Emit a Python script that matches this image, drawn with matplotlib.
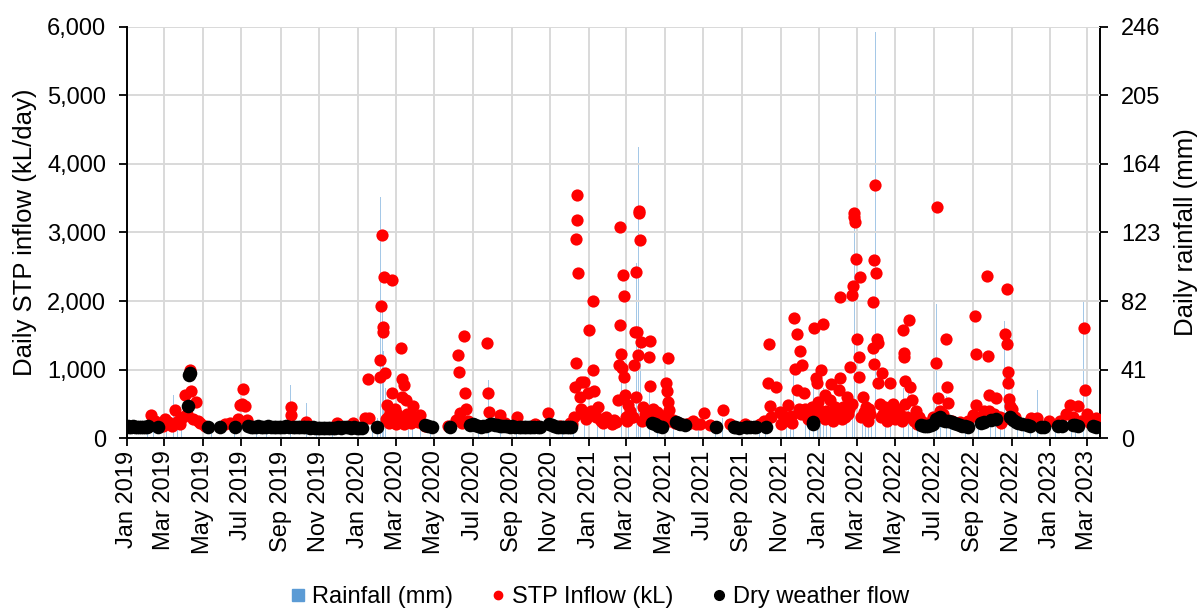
import matplotlib
matplotlib.use("Agg")
import matplotlib.pyplot as plt
import matplotlib.dates as mdates
from matplotlib.lines import Line2D
from matplotlib.ticker import FuncFormatter, FixedLocator
import pandas as pd

plt.rcParams['font.family'] = ['Liberation Sans', 'DejaVu Sans']

# ---------------- data ----------------
rain_dates = ["2019-01-12","2019-01-25","2019-02-03","2019-02-08","2019-02-12","2019-02-22","2019-03-05","2019-03-16",
    "2019-03-22","2019-03-28","2019-04-03","2019-04-11","2019-04-20","2019-05-15","2019-06-10","2019-06-20","2019-06-29",
    "2019-07-05","2019-07-25","2019-08-10","2019-08-28","2019-09-17","2019-10-12","2019-10-28","2019-11-22","2019-12-15",
    "2020-01-19","2020-01-25","2020-02-02","2020-02-06","2020-02-09","2020-02-11","2020-02-14","2020-02-18","2020-02-23",
    "2020-03-02","2020-03-08","2020-03-16","2020-03-22","2020-03-28","2020-04-10","2020-04-25","2020-05-20","2020-06-05",
    "2020-06-11","2020-06-16","2020-06-22","2020-07-10","2020-07-26","2020-08-14","2020-09-08","2020-09-25","2020-10-30",
    "2020-11-20","2020-12-08","2020-12-13","2020-12-15","2020-12-18","2020-12-25","2020-12-29",
    "2021-01-02","2021-01-06","2021-01-15","2021-01-26","2021-02-10","2021-02-19","2021-02-22","2021-02-24","2021-03-01",
    "2021-03-05","2021-03-12","2021-03-17","2021-03-20","2021-03-21","2021-03-24","2021-03-29","2021-04-07","2021-04-20",
    "2021-05-06","2021-05-15","2021-06-10","2021-06-24","2021-07-02","2021-07-20","2021-08-01","2021-08-25","2021-09-10",
    "2021-09-28","2021-10-08","2021-10-13","2021-10-18","2021-10-24","2021-11-04","2021-11-10","2021-11-16","2021-11-21",
    "2021-11-25","2021-12-01","2021-12-06","2021-12-10","2021-12-16","2021-12-23","2021-12-29",
    "2022-01-03","2022-01-07","2022-01-12","2022-01-18","2022-01-24","2022-01-29","2022-02-04","2022-02-09","2022-02-13",
    "2022-02-18","2022-02-22","2022-02-25","2022-02-26","2022-03-03","2022-03-06","2022-03-10","2022-03-15","2022-03-20",
    "2022-03-24","2022-03-28","2022-03-31","2022-04-05","2022-04-10","2022-04-15","2022-04-23","2022-04-29","2022-05-05",
    "2022-05-10","2022-05-14","2022-05-18","2022-05-22","2022-05-28","2022-06-05","2022-06-14","2022-07-05","2022-07-06",
    "2022-07-12","2022-07-21","2022-07-27","2022-08-10","2022-08-20","2022-09-04","2022-09-10","2022-09-17","2022-09-23",
    "2022-09-29","2022-10-07","2022-10-14","2022-10-21","2022-10-25","2022-11-01","2022-11-10","2022-11-20","2022-12-01",
    "2022-12-12","2022-12-24",
    "2023-01-10","2023-01-20","2023-01-26","2023-02-04","2023-02-10","2023-02-17","2023-02-23","2023-03-02","2023-03-10"]
rain_mm = [5,8,6,34,10,12,6,26,
    9,8,15,18,10,6,5,7,12,
    20,5,6,4,32,21,6,8,5,
    87,10,12,144,80,52,30,14,25,
    10,20,15,8,10,8,5,6,9,
    66,36,12,8,35,10,8,6,24,
    6,10,201,114,40,15,12,
    30,45,12,10,8,123,40,60,15,
    10,18,105,215,174,60,12,30,8,
    25,9,6,5,10,6,12,5,5,
    8,14,68,12,20,16,10,22,40,
    18,25,14,12,20,35,16,
    22,30,18,15,20,12,74,20,15,
    25,18,135,85,30,40,18,12,22,
    20,50,243,28,20,15,15,12,20,
    14,30,18,35,12,8,7,80,144,
    12,25,10,6,9,39,15,20,95,
    12,10,16,70,40,12,8,6,14,
    29,8,
    8,10,15,12,18,20,82,14,8]

inflow_dates = ["2019-02-08","2019-02-14","2019-02-22","2019-02-27","2019-03-02","2019-03-07","2019-03-10","2019-03-13",
    "2019-03-18","2019-03-23","2019-03-26","2019-03-31","2019-04-03","2019-04-06","2019-04-11","2019-04-13","2019-04-15",
    "2019-04-20","2019-04-23","2019-04-27","2019-05-04","2019-06-05","2019-06-13","2019-06-26","2019-06-29","2019-07-02",
    "2019-07-04","2019-07-07","2019-07-10","2019-09-17","2019-09-18","2019-10-11","2019-11-29","2019-12-25",
    "2020-01-13","2020-01-18","2020-01-19","2020-02-05","2020-02-06","2020-02-07","2020-02-08","2020-02-10","2020-02-11",
    "2020-02-12","2020-02-13","2020-02-15","2020-02-16","2020-02-18","2020-02-20","2020-02-21","2020-02-24","2020-02-25",
    "2020-02-26","2020-02-27","2020-02-29","2020-03-01","2020-03-03","2020-03-06","2020-03-09","2020-03-11","2020-03-12",
    "2020-03-14","2020-03-15","2020-03-17","2020-03-19","2020-03-21","2020-03-24","2020-03-26","2020-03-29","2020-03-31",
    "2020-04-02","2020-04-05","2020-04-09","2020-04-13","2020-04-16","2020-05-23","2020-06-04","2020-06-08","2020-06-09",
    "2020-06-11","2020-06-14","2020-06-18","2020-06-19","2020-06-20","2020-06-23","2020-07-24","2020-07-25","2020-07-27",
    "2020-08-14","2020-08-21","2020-09-09","2020-10-08","2020-10-28","2020-11-16","2020-12-02","2020-12-05","2020-12-08",
    "2020-12-10","2020-12-11","2020-12-12","2020-12-13","2020-12-14","2020-12-15","2020-12-18","2020-12-19","2020-12-20",
    "2020-12-22","2020-12-25","2020-12-27","2020-12-31",
    "2021-01-01","2021-01-04","2021-01-07","2021-01-08","2021-01-09","2021-01-12","2021-01-15","2021-01-18","2021-01-20",
    "2021-01-23","2021-01-28","2021-02-02","2021-02-06","2021-02-08","2021-02-10","2021-02-13","2021-02-16","2021-02-18",
    "2021-02-19","2021-02-20","2021-02-21","2021-02-23","2021-02-24","2021-02-25","2021-02-26","2021-02-27","2021-02-28",
    "2021-03-02","2021-03-04","2021-03-07","2021-03-10","2021-03-12","2021-03-14","2021-03-15","2021-03-16","2021-03-17",
    "2021-03-18","2021-03-20","2021-03-21","2021-03-22","2021-03-23","2021-03-24","2021-03-26","2021-03-27","2021-03-31",
    "2021-04-02","2021-04-06","2021-04-07","2021-04-08","2021-04-12","2021-04-15","2021-04-19","2021-04-23","2021-04-27",
    "2021-05-01","2021-05-03","2021-05-04","2021-05-06","2021-05-07","2021-05-08","2021-05-10","2021-05-14","2021-05-18",
    "2021-05-22","2021-05-28","2021-06-05","2021-06-10","2021-06-15","2021-06-20","2021-06-26","2021-07-02","2021-07-11",
    "2021-08-01","2021-08-12","2021-09-05","2021-09-29","2021-10-05","2021-10-12","2021-10-13","2021-10-14","2021-10-16",
    "2021-10-24","2021-10-30","2021-11-01","2021-11-03","2021-11-07","2021-11-12","2021-11-15","2021-11-17","2021-11-19",
    "2021-11-21","2021-11-23","2021-11-26","2021-11-27","2021-11-29","2021-12-01","2021-12-03","2021-12-04","2021-12-07",
    "2021-12-09","2021-12-12","2021-12-14","2021-12-16","2021-12-19","2021-12-20","2021-12-23","2021-12-25","2021-12-27",
    "2021-12-28","2021-12-30",
    "2022-01-02","2022-01-04","2022-01-07","2022-01-09","2022-01-10","2022-01-12","2022-01-14","2022-01-17","2022-01-20",
    "2022-01-22","2022-01-24","2022-01-26","2022-01-28","2022-01-31","2022-02-01","2022-02-02","2022-02-03","2022-02-05",
    "2022-02-07","2022-02-10","2022-02-13","2022-02-15","2022-02-17","2022-02-19","2022-02-21","2022-02-22","2022-02-23",
    "2022-02-24","2022-02-25","2022-02-26","2022-02-28","2022-03-02","2022-03-04","2022-03-05","2022-03-06","2022-03-08",
    "2022-03-11","2022-03-13","2022-03-15","2022-03-18","2022-03-20","2022-03-22","2022-03-26","2022-03-27","2022-03-28",
    "2022-03-29","2022-03-30","2022-04-01","2022-04-02","2022-04-03","2022-04-04","2022-04-07","2022-04-09","2022-04-10",
    "2022-04-12","2022-04-15","2022-04-18","2022-04-20","2022-04-23","2022-04-26","2022-04-28","2022-05-01","2022-05-03",
    "2022-05-06","2022-05-09","2022-05-11","2022-05-13","2022-05-14","2022-05-15","2022-05-16","2022-05-17","2022-05-19",
    "2022-05-22","2022-05-25","2022-05-28","2022-05-31","2022-06-02","2022-06-04","2022-06-07","2022-06-10","2022-06-18",
    "2022-06-30","2022-07-05","2022-07-06","2022-07-07","2022-07-10","2022-07-15","2022-07-21","2022-07-22","2022-07-23",
    "2022-07-29","2022-08-11","2022-08-24","2022-09-01","2022-09-04","2022-09-05","2022-09-06","2022-09-09","2022-09-18",
    "2022-09-23","2022-09-25","2022-09-26","2022-09-27","2022-10-04","2022-10-07","2022-10-13","2022-10-16","2022-10-20",
    "2022-10-21","2022-10-24","2022-10-25","2022-10-26","2022-10-27","2022-10-28","2022-10-29","2022-11-01","2022-11-06",
    "2022-11-30","2022-12-02","2022-12-12","2022-12-31",
    "2023-01-16","2023-01-26","2023-02-01","2023-02-06","2023-02-14","2023-02-19","2023-02-23","2023-02-25","2023-02-28",
    "2023-03-05","2023-03-15","2023-03-19"]
inflow_kl = [330,250,200,180,280,240,220,170,
    410,250,200,300,630,350,1000,680,280,
    520,250,220,180,200,220,280,480,500,
    715,460,260,330,450,240,215,215,
    290,860,290,895,1140,1930,2965,1550,1615,
    2355,955,280,480,300,220,380,2300,660,
    250,320,430,210,350,260,1310,860,600,
    775,200,555,350,300,250,220,460,300,
    280,240,335,200,180,180,260,1210,970,
    360,220,1490,650,430,250,1380,650,385,
    335,220,310,200,360,180,215,200,300,
    750,2905,1100,3180,3545,2405,600,430,820,
    350,820,280,650,
    1575,400,2005,1000,690,300,450,280,250,
    220,300,250,200,220,260,230,555,1065,
    3085,1650,1220,1015,2380,2075,895,630,300,
    250,480,400,300,300,1065,1550,600,2430,
    1550,1210,3320,3280,2890,1405,250,450,350,
    280,1185,1415,760,420,300,380,330,250,
    300,810,690,1165,530,410,250,260,220,
    220,200,200,215,250,200,200,360,190,
    405,200,210,200,250,800,1370,460,300,
    740,385,200,350,250,480,300,320,220,
    1755,1005,1515,700,420,1275,350,1065,650,
    430,385,280,300,250,450,1600,330,870,
    800,530,
    400,995,1665,630,280,400,350,555,790,
    250,350,450,300,380,700,870,2065,280,
    450,300,600,350,420,1040,500,2090,2225,
    3220,3290,3160,2615,1445,895,1185,2345,300,
    600,380,450,250,420,350,1980,1310,2600,
    1075,3695,2405,1440,1380,810,500,300,945,
    350,450,250,380,800,300,500,280,420,
    350,350,250,1575,1235,1185,835,500,300,
    1725,750,550,250,400,200,300,250,220,
    300,1090,3365,590,400,350,1445,750,505,
    250,230,250,330,1780,1225,480,300,400,
    2370,1195,630,400,350,580,300,220,280,
    1515,1370,2170,970,810,565,465,425,300,
    250,285,290,250,
    250,350,480,300,460,250,1600,700,350,
    220,285,200]

dry_dates = ["2019-01-02","2019-01-05","2019-01-08","2019-01-11","2019-01-14","2019-01-17","2019-01-20","2019-01-23",
    "2019-01-26","2019-01-29","2019-02-01","2019-02-04","2019-02-19","2019-04-08","2019-04-09","2019-04-10","2019-05-09",
    "2019-05-28","2019-06-21","2019-07-12","2019-07-16","2019-07-20","2019-07-24","2019-07-28","2019-08-01","2019-08-05",
    "2019-08-09","2019-08-13","2019-08-17","2019-08-21","2019-08-25","2019-08-29","2019-09-02","2019-09-06","2019-09-10",
    "2019-09-14","2019-09-20","2019-09-24","2019-09-28","2019-10-02","2019-10-06","2019-10-10","2019-10-14","2019-10-18",
    "2019-10-22","2019-10-26","2019-10-30","2019-11-03","2019-11-07","2019-11-11","2019-11-15","2019-11-19","2019-11-23",
    "2019-11-27","2019-12-01","2019-12-05","2019-12-09","2019-12-13","2019-12-17","2019-12-21","2019-12-27","2019-12-31",
    "2020-01-04","2020-01-08",
    "2020-01-31","2020-04-16","2020-04-22","2020-04-27","2020-05-26","2020-06-27","2020-07-01","2020-07-05","2020-07-09",
    "2020-07-14","2020-07-18","2020-07-22","2020-07-28","2020-08-01","2020-08-05","2020-08-09","2020-08-13","2020-08-17",
    "2020-08-21","2020-08-25","2020-08-29","2020-09-02","2020-09-06","2020-09-12","2020-09-16","2020-09-20","2020-09-24",
    "2020-09-28","2020-10-02","2020-10-06","2020-10-12","2020-10-16","2020-10-30","2020-11-03","2020-11-07","2020-11-11",
    "2020-11-15","2020-11-19","2020-11-23","2020-11-27","2020-12-01","2020-12-04",
    "2021-04-11","2021-04-15","2021-04-20","2021-04-26","2021-05-19","2021-05-22","2021-05-25","2021-06-02","2021-07-22",
    "2021-08-18","2021-08-21","2021-08-26","2021-09-06","2021-09-09","2021-09-13","2021-09-20","2021-09-23","2021-10-09",
    "2021-12-21","2021-12-22",
    "2022-06-11","2022-06-15","2022-06-19","2022-06-22","2022-06-26","2022-06-29","2022-07-04","2022-07-10","2022-07-14",
    "2022-07-18","2022-07-22","2022-07-25","2022-07-29","2022-08-02","2022-08-06","2022-08-11","2022-08-15","2022-08-19",
    "2022-08-24","2022-09-13","2022-09-19","2022-09-30","2022-10-07","2022-10-29","2022-11-04","2022-11-08","2022-11-11",
    "2022-11-17","2022-11-25","2022-11-30","2022-12-18","2022-12-23",
    "2023-01-14","2023-01-20","2023-02-06","2023-02-10","2023-02-14","2023-03-10","2023-03-14"]
dry_kl = [170,165,160,170,165,160,155,160,
    165,160,165,170,165,460,920,950,165,
    165,165,170,165,160,165,170,165,160,
    165,170,165,160,155,160,165,160,170,
    165,165,160,155,160,165,160,155,150,
    155,150,145,150,145,140,145,150,145,
    150,155,150,155,160,155,150,155,150,
    145,150,
    160,190,175,165,160,195,200,185,175,
    165,170,175,200,210,195,185,175,180,
    175,170,165,170,165,160,165,160,155,
    160,165,160,155,160,200,190,175,165,
    160,165,160,155,160,165,
    215,200,180,165,240,225,210,190,165,
    155,160,150,160,165,160,160,165,165,
    240,200,
    190,180,170,175,185,200,280,310,270,
    255,250,245,240,225,210,190,180,170,
    160,215,230,265,275,300,265,240,225,
    200,190,175,160,165,
    170,175,190,185,175,170,165]

flow_ticks = [0, 1000, 2000, 3000, 4000, 5000, 6000]
rain_ticks = [0, 41, 82, 123, 164, 205, 246]

# ---------------- figure ----------------
fig = plt.figure(figsize=(12, 6.08), dpi=100)
ax = fig.add_axes([0.1058, 0.2796, 0.9167 - 0.1058, 0.9556 - 0.2796])
ax2 = ax.twinx()
ax.set_zorder(ax2.get_zorder() + 1)
ax.patch.set_visible(False)

rd = pd.to_datetime(rain_dates)
ax2.bar(rd, rain_mm, width=1.0, color='#5B9BD5', alpha=0.55, linewidth=0, zorder=1)

ax.plot(pd.to_datetime(inflow_dates), inflow_kl, linestyle='none', marker='o', markersize=8.8,
        color='#FF0000', markeredgewidth=0, zorder=3)
ax.plot(pd.to_datetime(dry_dates), dry_kl, linestyle='none', marker='o', markersize=9.8,
        color='#000000', markeredgewidth=0, zorder=4)

ax.set_xlim(pd.Timestamp("2019-01-01"), pd.Timestamp("2023-03-21"))
ax.set_ylim(0, 6000)
ax2.set_ylim(0, 246)
ax.yaxis.set_major_locator(FixedLocator(flow_ticks))
ax2.yaxis.set_major_locator(FixedLocator(rain_ticks))
ax.yaxis.set_major_formatter(FuncFormatter(lambda v, p: f"{v:,.0f}"))

ax.xaxis.set_major_locator(mdates.MonthLocator(bymonth=[1, 3, 5, 7, 9, 11]))
ax.xaxis.set_major_formatter(mdates.DateFormatter('%b %Y'))
for lab in ax.get_xticklabels():
    lab.set_rotation(90)

ax.grid(True, color='#D9D9D9', linewidth=1.4, zorder=0)
ax.set_axisbelow(True)

fs = 17
ax.tick_params(axis='both', labelsize=fs, colors='black', width=1.3, length=6, direction='out')
ax.tick_params(axis='x', pad=3)
ax.tick_params(axis='y', pad=9)
ax2.tick_params(axis='y', labelsize=fs, colors='black', width=1.3, length=6, direction='out', pad=9)

for s in ['top', 'right']:
    ax.spines[s].set_visible(False)
for s in ['top', 'left', 'bottom']:
    ax2.spines[s].set_visible(False)
ax.spines['left'].set_linewidth(1.4)
ax.spines['bottom'].set_linewidth(1.4)
ax2.spines['right'].set_linewidth(1.4)

ax.set_ylabel("Daily STP inflow (kL/day)", fontsize=18.5, labelpad=7)
ax2.set_ylabel("Daily rainfall (mm)", fontsize=18.5, labelpad=10)

handles = [Line2D([], [], linestyle='none', marker='s', markersize=8, color='#5B9BD5'),
           Line2D([], [], linestyle='none', marker='o', markersize=6, color='#FF0000'),
           Line2D([], [], linestyle='none', marker='o', markersize=7, color='#000000')]
fig.legend(handles, ["Rainfall (mm)", "STP Inflow (kL)", "Dry weather flow"], loc='lower center',
           bbox_to_anchor=(0.5, -0.035), ncol=3, frameon=False, fontsize=fs,
           handlelength=0.6, handletextpad=0.3, columnspacing=1.6)

fig.savefig("out.png", dpi=100)
